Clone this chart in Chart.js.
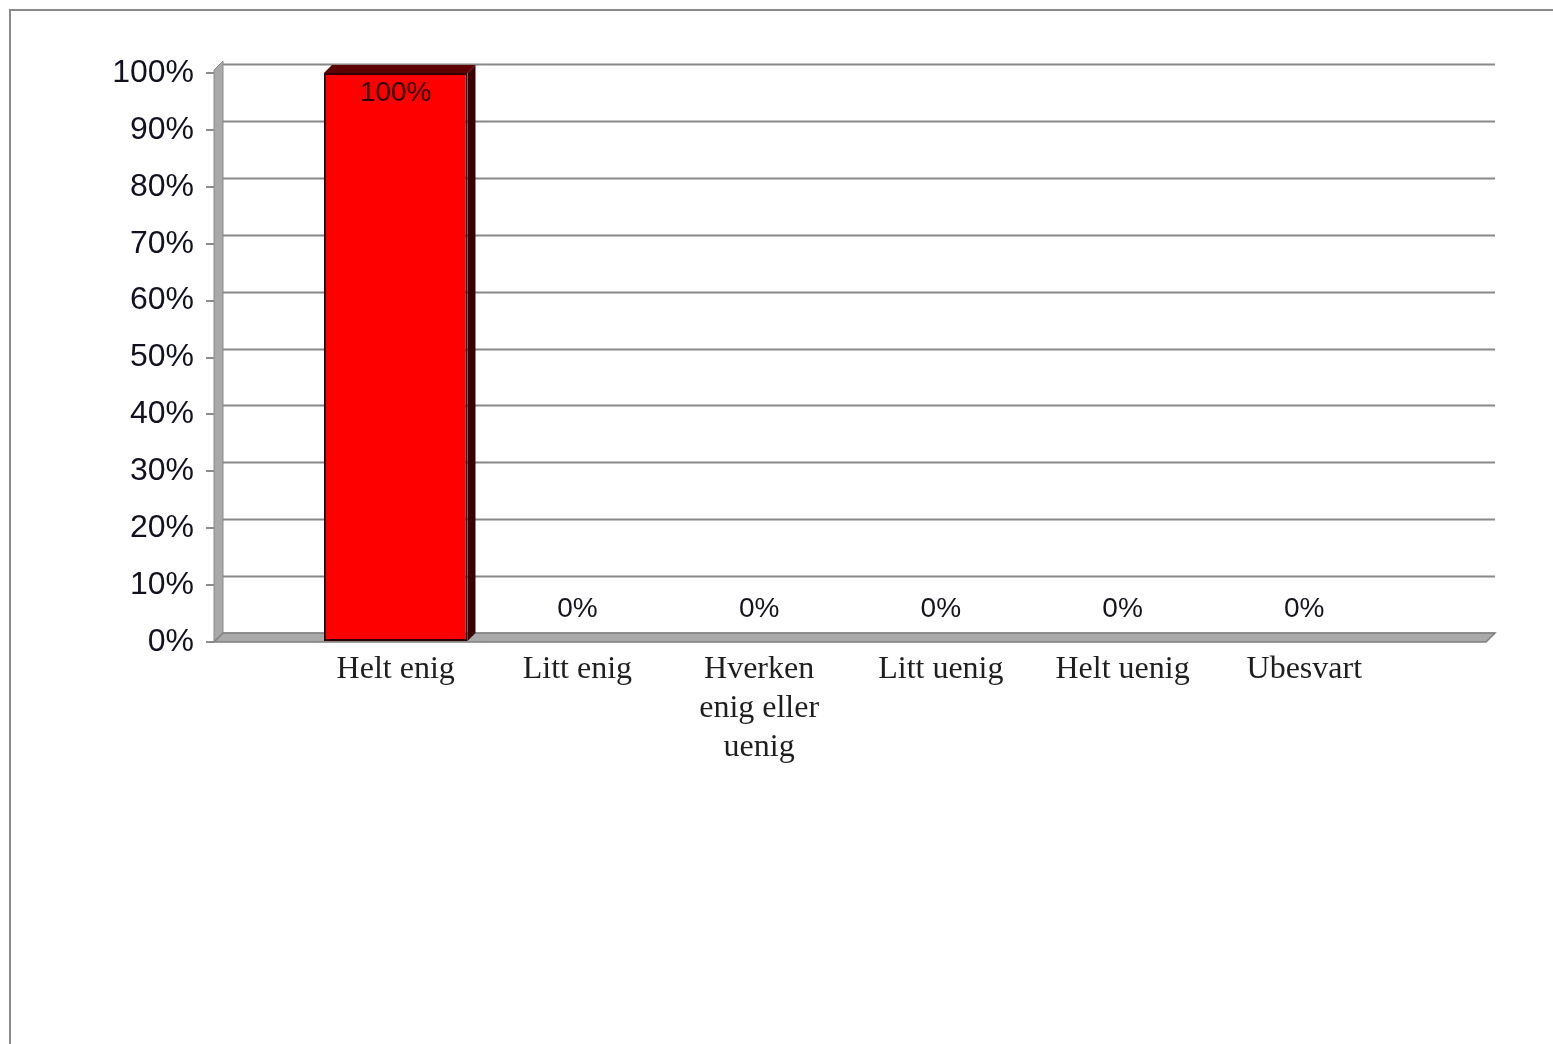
<!DOCTYPE html>
<html>
<head>
<meta charset="utf-8">
<title>Helt enig</title>
<script src="https://cdn.jsdelivr.net/npm/chart.js@4"></script>
<style>
  html, body { margin: 0; padding: 0; background: #fff; overflow: hidden; }
  #frame {
    position: absolute; left: 9px; top: 9px; width: 1700px; height: 1200px;
    border-top: 2px solid #8a8a8a; border-left: 2px solid #8a8a8a;
  }
  #myChart { position: absolute; left: 0; top: 0; }
</style>
</head>
<body>
<div id="frame"></div>
<canvas id="myChart" width="1553" height="1044"></canvas>
<script>
// Answer categories and their share of responses (%)
const categories = [
  "Helt enig",
  "Litt enig",
  ["Hverken", "enig eller", "uenig"],
  "Litt uenig",
  "Helt uenig",
  "Ubesvart",
];
const values = [100, 0, 0, 0, 0, 0];
const yTicks = [0, 10, 20, 30, 40, 50, 60, 70, 80, 90, 100];

const depth = 9; // fake 3D depth for walls and grid

// Back wall gridlines, left wall and floor (drawn before the bars)
const walls = {
  id: "walls",
  beforeDatasetsDraw(chart) {
    const { ctx, chartArea: a } = chart;
    const y = chart.scales.y;
    ctx.save();
    // left wall
    ctx.fillStyle = "#a9a9a9";
    ctx.beginPath();
    ctx.moveTo(a.left, a.bottom);
    ctx.lineTo(a.left, a.top - 3);
    ctx.lineTo(a.left + depth, a.top - 3 - depth);
    ctx.lineTo(a.left + depth, a.bottom - depth);
    ctx.closePath();
    ctx.fill();
    ctx.strokeStyle = "#8a8a8a";
    ctx.lineWidth = 1;
    ctx.stroke();
    // gridlines on back wall
    ctx.strokeStyle = "#888888";
    ctx.lineWidth = 2;
    yTicks.forEach((v) => {
      const py = Math.round(y.getPixelForValue(v) - depth) + 0.5;
      ctx.beginPath();
      ctx.moveTo(a.left + depth, py);
      ctx.lineTo(a.right + depth, py);
      ctx.stroke();
    });
    // floor
    ctx.fillStyle = "#a9a9a9";
    ctx.beginPath();
    ctx.moveTo(a.left, a.bottom);
    ctx.lineTo(a.left + depth, a.bottom - depth);
    ctx.lineTo(a.right + depth, a.bottom - depth);
    ctx.lineTo(a.right, a.bottom);
    ctx.closePath();
    ctx.fill();
    ctx.strokeStyle = "#7f7f7f";
    ctx.lineWidth = 1.5;
    ctx.stroke();
    ctx.restore();
  },
  afterDatasetsDraw(chart) {
    const { ctx } = chart;
    const meta = chart.getDatasetMeta(0);
    ctx.save();
    meta.data.forEach((el, i) => {
      const v = chart.data.datasets[0].data[i];
      if (v === null || v === undefined) return;
      const d = 8;
      const l = el.x - el.width / 2;
      const r = el.x + el.width / 2;
      if (v > 0) {
        // top face
        ctx.fillStyle = "#5c0000";
        ctx.beginPath();
        ctx.moveTo(l, el.y);
        ctx.lineTo(l + d, el.y - d);
        ctx.lineTo(r + d, el.y - d);
        ctx.lineTo(r, el.y);
        ctx.closePath();
        ctx.fill();
        // side face
        ctx.fillStyle = "#3a0000";
        ctx.beginPath();
        ctx.moveTo(r, el.y);
        ctx.lineTo(r + d, el.y - d);
        ctx.lineTo(r + d, el.base - d);
        ctx.lineTo(r, el.base);
        ctx.closePath();
        ctx.fill();
      }
      // value label
      ctx.font = "28px 'Liberation Sans', Arial, sans-serif";
      ctx.textAlign = "center";
      ctx.textBaseline = "middle";
      if (v > 0) {
        ctx.fillStyle = "#2a0505";
        ctx.fillText(v + "%", el.x, el.y + 20);
      } else {
        ctx.fillStyle = "#14141f";
        ctx.fillText(v + "%", el.x, el.base - 33);
      }
    });
    ctx.restore();
  },
};

const data = {
  labels: ["", ...categories, ""],
  datasets: [
    {
      label: "Svar",
      data: [null, ...values, null],
      backgroundColor: "#ff0000",
      borderColor: "#300000",
      borderWidth: (c) => (c.raw > 0 ? 2 : 0),
      borderSkipped: false,
      barPercentage: 0.79,
      categoryPercentage: 1,
    },
  ],
};

const config = {
  type: "bar",
  data: data,
  options: {
    responsive: false,
    devicePixelRatio: 1,
    animation: false,
    layout: { padding: { top: 73, right: 67, bottom: 0, left: 0 } },
    plugins: {
      legend: { display: false },
      tooltip: { enabled: false },
    },
    scales: {
      x: {
        offset: false,
        border: { display: false },
        grid: { display: false },
        ticks: {
          autoSkip: false,
          maxRotation: 0,
          padding: 0,
          color: "#1e1e1e",
          font: { family: "'Liberation Serif', 'Times New Roman', serif", size: 32, lineHeight: 1.22 },
        },
        afterFit: (scale) => { scale.height = 402; },
      },
      y: {
        min: 0,
        max: 100,
        border: { display: false },
        grid: {
          drawOnChartArea: false,
          drawTicks: true,
          tickLength: 8,
          color: "#8c8c8c",
          lineWidth: 2,
        },
        afterBuildTicks: (scale) => {
          scale.ticks = yTicks.map((v) => ({ value: v }));
        },
        ticks: {
          padding: 12,
          color: "#111122",
          font: { family: "'Liberation Sans', Arial, sans-serif", size: 32 },
          callback: (v) => v + "%",
        },
        afterFit: (scale) => { scale.width = 214; },
      },
    },
  },
  plugins: [walls],
};

const myChart = new Chart(document.getElementById("myChart"), config);
</script>
</body>
</html>
